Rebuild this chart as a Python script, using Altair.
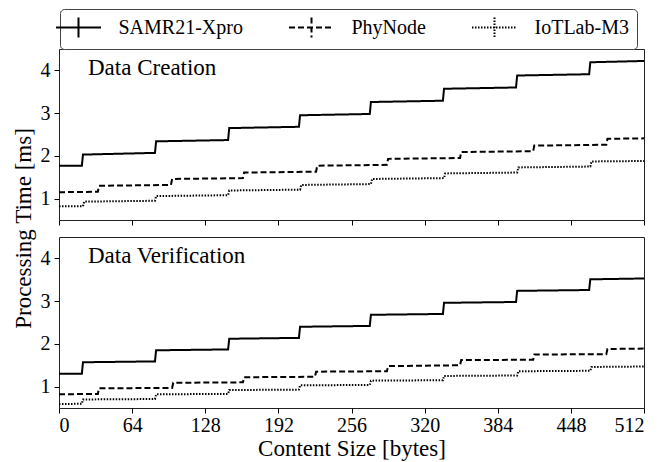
import altair as alt
import pandas as pd

series = ["SAMR21-Xpro", "PhyNode", "IoTLab-M3"]
panels = ["Data Creation", "Data Verification"]
x_ticks = [0, 64, 128, 192, 256, 320, 384, 448, 512]
y_ticks = [1, 2, 3, 4]

# ---- Data Creation ----
crea_samr_steps = [21, 85, 149, 211, 273, 337, 401, 465]
crea_samr_start = [1.77, 2.03, 2.34, 2.65, 2.95, 3.26, 3.57, 3.88, 4.19]
crea_samr_end = [1.77, 2.07, 2.37, 2.68, 2.98, 3.29, 3.60, 3.91, 4.22]

crea_phy_steps = [35, 99, 162, 226, 288, 352, 416, 480]
crea_phy_start = [1.15, 1.30, 1.46, 1.61, 1.77, 1.93, 2.09, 2.24, 2.40]
crea_phy_end = [1.16, 1.32, 1.48, 1.63, 1.79, 1.95, 2.11, 2.26, 2.41]

crea_iot_steps = [22, 85, 149, 212, 274, 338, 402, 466]
crea_iot_start = [0.82, 0.93, 1.06, 1.19, 1.32, 1.46, 1.59, 1.73, 1.87]
crea_iot_end = [0.82, 0.95, 1.08, 1.21, 1.34, 1.48, 1.61, 1.75, 1.88]

# ---- Data Verification ----
veri_samr_steps = [21, 85, 149, 211, 273, 337, 401, 465]
veri_samr_start = [1.30, 1.57, 1.85, 2.12, 2.40, 2.68, 2.96, 3.24, 3.51]
veri_samr_end = [1.30, 1.59, 1.87, 2.14, 2.42, 2.70, 2.98, 3.26, 3.53]

veri_phy_steps = [35, 100, 162, 225, 288, 352, 416, 480]
veri_phy_start = [0.82, 0.96, 1.09, 1.22, 1.35, 1.48, 1.62, 1.75, 1.88]
veri_phy_end = [0.83, 0.97, 1.10, 1.23, 1.36, 1.50, 1.63, 1.76, 1.89]

veri_iot_steps = [21, 85, 149, 211, 273, 337, 402, 466]
veri_iot_start = [0.59, 0.70, 0.82, 0.92, 1.03, 1.14, 1.25, 1.36, 1.46]
veri_iot_end = [0.60, 0.71, 0.83, 0.93, 1.04, 1.15, 1.26, 1.37, 1.47]


def build(name, steps, starts, ends):
    rows = []
    edges = [0] + steps + [513]
    for i in range(len(starts)):
        x0 = edges[i]
        x1 = edges[i + 1] - 1
        rows.append({"series": name, "x": x0, "y": starts[i]})
        rows.append({"series": name, "x": x1, "y": ends[i]})
    return rows


crea = pd.DataFrame(
    build(series[0], crea_samr_steps, crea_samr_start, crea_samr_end)
    + build(series[1], crea_phy_steps, crea_phy_start, crea_phy_end)
    + build(series[2], crea_iot_steps, crea_iot_start, crea_iot_end)
)
veri = pd.DataFrame(
    build(series[0], veri_samr_steps, veri_samr_start, veri_samr_end)
    + build(series[1], veri_phy_steps, veri_phy_start, veri_phy_end)
    + build(series[2], veri_iot_steps, veri_iot_start, veri_iot_end)
)

FONT = "Liberation Serif"
W, H = 585, 171

dash_scale = alt.Scale(domain=series, range=[[1, 0], [6, 3], [1.5, 1.5]])

legend = alt.Legend(
    orient="none",
    legendX=1,
    legendY=-40,
    direction="horizontal",
    title=None,
    symbolType="M-2.25,0L2.25,0M0,-1L0,1",
    symbolSize=400,
    symbolStrokeWidth=2,
    symbolStrokeColor="black",
    symbolFillColor="transparent",
    labelFont=FONT,
    labelFontSize=20,
    labelColor="black",
    labelOffset=29,
    columnPadding=41,
    padding=7.5,
    strokeColor="#444",
    cornerRadius=4,
    fillColor="white",
)


def panel(df, title, bottom):
    x_axis = alt.Axis(
        values=x_ticks,
        labels=bottom,
        title="Content Size [bytes]" if bottom else None,
        labelPadding=2,
        titlePadding=2,
    )
    y_axis = alt.Axis(
        values=y_ticks,
        title="Processing Time [ms]" if bottom else None,
        labelPadding=4,
        titlePadding=5,
        titleY=-9,
    )
    lines = (
        alt.Chart(df)
        .mark_line(strokeWidth=2, color="black")
        .encode(
            x=alt.X("x:Q", scale=alt.Scale(domain=[0, 512], nice=False), axis=x_axis),
            y=alt.Y("y:Q", scale=alt.Scale(domain=[0.5, 4.5], nice=False), axis=y_axis),
            strokeDash=alt.StrokeDash("series:N", scale=dash_scale, legend=legend),
            order="x:Q",
        )
    )
    label = (
        alt.Chart(pd.DataFrame({"t": [title]}))
        .mark_text(align="left", baseline="alphabetic", font=FONT, fontSize=23, color="black")
        .encode(x=alt.value(29), y=alt.value(26), text="t:N")
    )
    return alt.layer(lines, label).properties(width=W, height=H)


chart = (
    alt.vconcat(
        panel(crea, panels[0], False),
        panel(veri, panels[1], True),
        spacing=17,
        bounds="flush",
    )
    .properties(padding={"left": 3, "top": 0, "right": 5, "bottom": 0}, background="white")
    .configure_view(stroke="#222", strokeWidth=1)
    .configure_axis(
        labelFont=FONT,
        labelFontSize=20,
        labelColor="black",
        titleFont=FONT,
        titleFontSize=23,
        titleFontWeight="normal",
        titleColor="black",
        tickSize=5,
        tickColor="black",
        domain=False,
        grid=False,
    )
)

chart.save("out.html", embed_options={"renderer": "svg", "actions": False})
